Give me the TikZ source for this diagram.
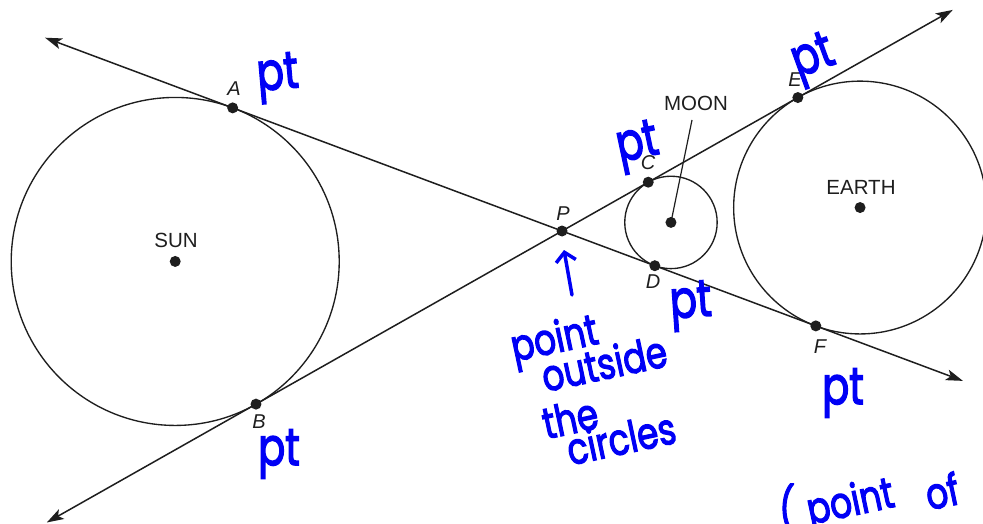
\documentclass[tikz,border=0pt]{standalone}
\usepackage{fontspec}
\setmainfont{Liberation Sans}
\newfontfamily\hand[FakeBold=3]{Poppins}
\usetikzlibrary{arrows.meta,calc}
\definecolor{ink}{RGB}{30,30,30}
\definecolor{pen}{RGB}{0,0,245}
\newcommand{\tallpt}[1]{\scalebox{1}[1.3]{#1}}
\newcommand{\tallw}[1]{\scalebox{0.95}[1.2]{#1}}
\begin{document}
\begin{tikzpicture}[x=1pt,y=-1pt,
  geo/.style={draw=ink,line width=1.5pt},
  ray/.style={geo,{Stealth[length=17pt,width=11pt,inset=4pt]}-{Stealth[length=17pt,width=11pt,inset=4pt]}},
  dot/.style={circle,fill=ink,inner sep=0pt,minimum size=11pt},
  lab/.style={font=\fontsize{20}{20}\selectfont\itshape,text=ink,inner sep=0pt},
  body/.style={font=\fontsize{20.5}{20}\selectfont,text=ink,inner sep=0pt},
  hw/.style={font=\hand\fontsize{40}{40}\selectfont,text=pen,inner sep=0pt},
  hws/.style={font=\hand\fontsize{36}{36}\selectfont,text=pen,inner sep=0pt,rotate=12},
  penarrow/.style={draw=pen,line width=3.5pt,line cap=round,-{Straight Barb[length=9pt,width=20pt]}}
]
\useasboundingbox (0,0) rectangle (983,524);
% geometry
\coordinate (P) at (562,231);
\coordinate (sunc) at ($(P)+(175.5:388)$);
\coordinate (moonc) at ($(P)+(-4.5:109.3)$);
\coordinate (earthc) at ($(P)+(-4.5:299)$);
\coordinate (A) at ($(P)+(200.5:351.6)$);
\coordinate (B) at ($(P)+(150.5:351.6)$);
\coordinate (C) at ($(P)+(-29.5:99.1)$);
\coordinate (D) at ($(P)+(20.5:99.1)$);
\coordinate (E) at ($(P)+(-29.5:271)$);
\coordinate (F) at ($(P)+(20.5:271)$);
\coordinate (l1s) at ($(P)+(200.5:552)$);
\coordinate (l1e) at ($(P)+(20.5:428)$);
\coordinate (l2s) at ($(P)+(150.5:592)$);
\coordinate (l2e) at ($(P)+(-29.5:449)$);
% circles
\draw[geo,line width=1.35pt] (sunc) circle[radius=164];
\draw[geo,line width=1.35pt] (moonc) circle[radius=46.2];
\draw[geo,line width=1.35pt] (earthc) circle[radius=126.4];
% tangent lines
\draw[ray] (l1s) -- (l1e);
\draw[ray] (l2s) -- (l2e);
% dots
\foreach \p in {P,A,B,C,D,E,F,sunc,moonc,earthc}{\node[dot] (\p d) at (\p) {};}
% moon leader
\coordinate (moonlead) at (692,120);
\draw[geo,line width=1.2pt] (moonlead) -- (moonc);
% labels
\node[lab] (Al) at (234,89) {A};
\node[lab] (Bl) at (259,422) {B};
\node[lab] (Cl) at (648,163) {C};
\node[lab] (Dl) at (653,282) {D};
\node[lab] (El) at (795,80) {E};
\node[lab] (Fl) at (820,347) {F};
\node[lab] (Pl) at (563,214) {P};
\node[body] (moonl) at (696,103.5) {MOON};
\node[body] (sunl) at (176,240) {SUN};
\node[body] (earthl) at (861,187) {EARTH};
% handwritten notes
\node[hw,rotate=5] (ptA) at (278,78) {\tallpt{pt}};
\node[hw,rotate=12] (ptC) at (638,147) {\tallpt{pt}};
\node[hw,rotate=20] (ptE) at (814,60) {\tallpt{pt}};
\node[hw,rotate=4] (ptD) at (691,306) {\tallpt{pt}};
\node[hw] (ptF) at (843,393) {\tallpt{pt}};
\node[hw] (ptB) at (279,454) {\tallpt{pt}};
\coordinate (atail) at (572,295);
\coordinate (atip) at (564,250);
\draw[penarrow] (atail) -- (atip);
\node[hws] (n1) at (555,342) {\tallw{point}};
\node[hws] (n2) at (604,363) {\tallw{outside}};
\node[hws] (n3) at (570,418) {\tallw{the}};
\node[hws] (n4) at (621,438) {\tallw{circles}};
\node[hws,rotate=-12] (n5) at (787,508) {\tallw{(}};
\node[hws] (n6) at (851,505) {\tallw{point}};
\node[hws] (n7) at (942,491) {\tallw{of}};
\end{tikzpicture}
\end{document}
